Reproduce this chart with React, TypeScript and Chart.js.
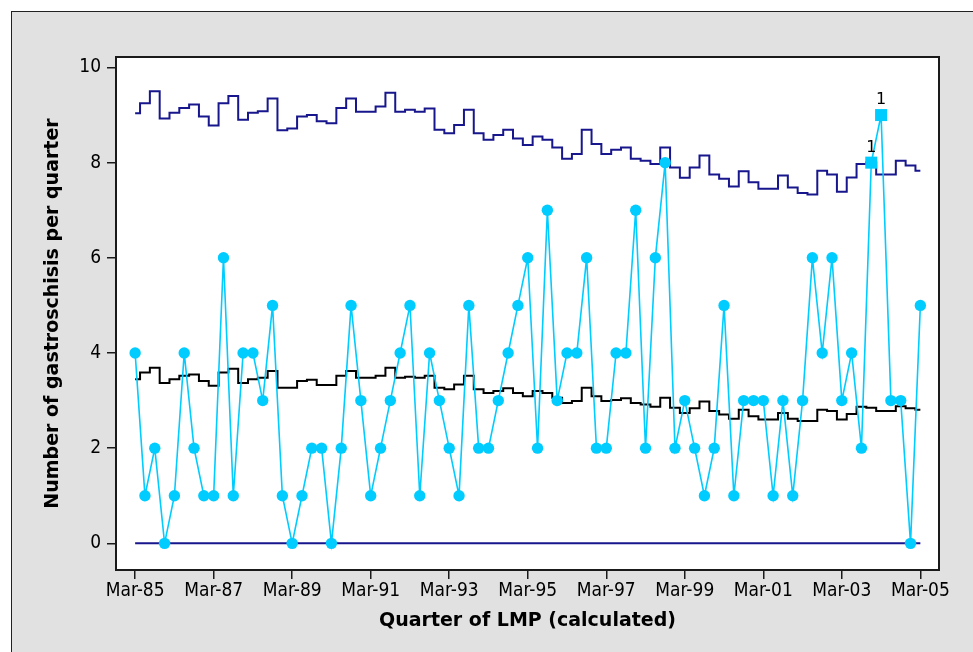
import React, { useEffect, useRef } from "react";
import { Chart, registerables } from "chart.js";

Chart.register(...registerables);

// Tick labels on the quarter axis (every 8th quarter)
const tickLabels = [
  "Mar-85", "Mar-87", "Mar-89", "Mar-91", "Mar-93", "Mar-95",
  "Mar-97", "Mar-99", "Mar-01", "Mar-03", "Mar-05",
];
const tickEvery = 8;

// Observed counts per quarter (Mar-85 .. Mar-05)
const counts = [
  4, 1, 2, 0, 1, 4, 2, 1, 1, 6,
  1, 4, 4, 3, 5, 1, 0, 1, 2, 2,
  0, 2, 5, 3, 1, 2, 3, 4, 5, 1,
  4, 3, 2, 1, 5, 2, 2, 3, 4, 5,
  6, 2, 7, 3, 4, 4, 6, 2, 2, 4,
  4, 7, 2, 6, 8, 2, 3, 2, 1, 2,
  5, 1, 3, 3, 3, 1, 3, 1, 3, 6,
  4, 6, 3, 4, 2, 8, 9, 3, 3, 0,
  5,
];

// Upper control limit per quarter
const upperLimit = [
  9.04, 9.25, 9.5, 8.93, 9.05, 9.15, 9.22, 8.97, 8.78, 9.25,
  9.4, 8.9, 9.05, 9.08, 9.35, 8.68, 8.72, 8.97, 9.0, 8.87,
  8.83, 9.15, 9.35, 9.07, 9.07, 9.18, 9.47, 9.07, 9.11, 9.07,
  9.14, 8.69, 8.62, 8.79, 9.11, 8.62, 8.48, 8.58, 8.69, 8.51,
  8.37, 8.55, 8.48, 8.32, 8.08, 8.18, 8.69, 8.39, 8.18, 8.27,
  8.32, 8.08, 8.04, 7.97, 8.32, 7.9, 7.68, 7.9, 8.15, 7.75,
  7.66, 7.5, 7.82, 7.59, 7.45, 7.45, 7.73, 7.48, 7.36, 7.33,
  7.83, 7.75, 7.39, 7.69, 7.97, 8.01, 7.75, 7.75, 8.04, 7.94,
  7.83,
];

// Centre line per quarter
const centerLine = [
  3.45, 3.59, 3.69, 3.37, 3.45, 3.52, 3.55, 3.41, 3.31, 3.59,
  3.67, 3.37, 3.45, 3.48, 3.62, 3.27, 3.27, 3.41, 3.44, 3.33,
  3.33, 3.52, 3.62, 3.48, 3.48, 3.52, 3.69, 3.48, 3.5, 3.48,
  3.52, 3.27, 3.24, 3.34, 3.52, 3.24, 3.16, 3.2, 3.26, 3.16,
  3.09, 3.2, 3.16, 3.06, 2.95, 2.99, 3.27, 3.09, 2.99, 3.01,
  3.05, 2.95, 2.92, 2.87, 3.06, 2.85, 2.74, 2.84, 2.98, 2.78,
  2.71, 2.62, 2.81, 2.67, 2.6, 2.6, 2.74, 2.62, 2.57, 2.57,
  2.81, 2.78, 2.6, 2.72, 2.87, 2.85, 2.78, 2.78, 2.88, 2.84,
  2.81,
];

// Lower control limit (constant)
const lowerLimit = 0;

// Quarters flagged by test 1 (beyond the upper limit)
const flagged = [75, 76];
const flagText = "1";

const yTicks = [0, 2, 4, 6, 8, 10];

const NAVY = "#17168c";
const CYAN = "#00ccff";

export default function App() {
  const ref = useRef<HTMLCanvasElement | null>(null);

  useEffect(() => {
    const canvas = ref.current;
    if (!canvas) return;

    const toXY = (arr: number[]) => arr.map((y, i) => ({ x: i, y }));
    const tickFont = {
      family: '"DejaVu Sans Condensed", "DejaVu Sans", sans-serif',
      size: 19,
    };
    const titleFont = {
      family: '"DejaVu Sans", sans-serif',
      size: 19,
      weight: "bold" as const,
    };

    const framePlugin = {
      id: "frame",
      beforeDraw(chart: any) {
        const { ctx, chartArea } = chart;
        const { left, top, right, bottom } = chartArea;
        ctx.save();
        ctx.fillStyle = "#ffffff";
        ctx.fillRect(left, top, right - left, bottom - top);
        ctx.restore();
      },
      afterDatasetsDraw(chart: any) {
        const { ctx, chartArea } = chart;
        const { left, top, right, bottom } = chartArea;
        ctx.save();
        ctx.strokeStyle = "#1a1a1a";
        ctx.lineWidth = 2;
        ctx.strokeRect(left, top, right - left, bottom - top);
        // test-1 labels above flagged points
        const xs = chart.scales.x;
        const ys = chart.scales.y;
        ctx.fillStyle = "#000";
        ctx.font = '16px "DejaVu Sans", sans-serif';
        ctx.textAlign = "center";
        ctx.textBaseline = "alphabetic";
        flagged.forEach((i) => {
          const px = xs.getPixelForValue(i);
          const py = ys.getPixelForValue(counts[i]);
          ctx.fillText(flagText, px, py - 11);
        });
        ctx.restore();
      },
    };

    const chart = new Chart(canvas, {
      type: "line",
      data: {
        datasets: [
          {
            label: "Count",
            data: toXY(counts),
            borderColor: CYAN,
            backgroundColor: CYAN,
            borderWidth: 1.6,
            pointBackgroundColor: CYAN,
            pointBorderWidth: 0,
            pointStyle: (c: any) =>
              flagged.includes(c.dataIndex) ? "rect" : "circle",
            pointRadius: (c: any) =>
              flagged.includes(c.dataIndex) ? 8.5 : 5.7,
            tension: 0,
          },
          {
            label: "UCL",
            data: toXY(upperLimit),
            borderColor: NAVY,
            borderWidth: 2,
            stepped: "middle",
            pointRadius: 0,
          },
          {
            label: "CL",
            data: toXY(centerLine),
            borderColor: "#000",
            borderWidth: 2,
            stepped: "middle",
            pointRadius: 0,
          },
          {
            label: "LCL",
            data: [
              { x: 0, y: lowerLimit },
              { x: counts.length - 1, y: lowerLimit },
            ],
            borderColor: NAVY,
            borderWidth: 2,
            pointRadius: 0,
          },
        ],
      },
      options: {
        animation: false,
        responsive: false,
        devicePixelRatio: 1,
        layout: { padding: { top: 45, right: 34, left: 0, bottom: 0 } },
        plugins: {
          legend: { display: false },
          tooltip: { enabled: false },
        },
        scales: {
          x: {
            type: "linear",
            min: -1.95,
            max: 81.9,
            afterFit: (s: any) => {
              s.height = 82;
            },
            afterBuildTicks: (s: any) => {
              s.ticks = tickLabels.map((_, i) => ({ value: i * tickEvery }));
            },
            ticks: {
              color: "#000",
              font: tickFont,
              padding: 1,
              maxRotation: 0,
              autoSkip: false,
              callback: (v: any) => {
                const idx = Math.round(Number(v) / tickEvery);
                return tickLabels[idx] ?? "";
              },
            },
            grid: {
              drawOnChartArea: false,
              drawTicks: true,
              tickLength: 9,
              color: "#1a1a1a",
              lineWidth: 1.5,
            },
            border: { display: true, color: "#1a1a1a", width: 2 },
            title: {
              display: true,
              text: "Quarter of LMP (calculated)",
              color: "#000",
              font: titleFont,
              padding: { top: 0, bottom: 19.5 },
            },
          },
          y: {
            type: "linear",
            min: -0.56,
            max: 10.22,
            afterFit: (s: any) => {
              s.width = 104;
            },
            afterBuildTicks: (s: any) => {
              s.ticks = yTicks.map((v) => ({ value: v }));
            },
            ticks: {
              color: "#000",
              font: tickFont,
              padding: 6,
            },
            grid: {
              drawOnChartArea: false,
              drawTicks: true,
              tickLength: 9,
              color: "#1a1a1a",
              lineWidth: 1.5,
            },
            border: { display: true, color: "#1a1a1a", width: 2 },
            title: {
              display: true,
              text: "Number of gastroschisis per quarter",
              color: "#000",
              font: titleFont,
              padding: { top: 30, bottom: 0 },
            },
          },
        },
      },
      plugins: [framePlugin],
    });

    return () => chart.destroy();
  }, []);

  return (
    <div
      style={{
        position: "absolute",
        left: 11,
        top: 11,
        width: 962,
        height: 641,
        boxSizing: "border-box",
        borderTop: "1px solid #222",
        borderLeft: "1px solid #222",
        background: "#e1e1e1",
        overflow: "hidden",
      }}
    >
      <canvas
        ref={ref}
        width={961}
        height={640}
        style={{ position: "absolute", left: 0, top: 0, width: 961, height: 640 }}
      />
    </div>
  );
}
